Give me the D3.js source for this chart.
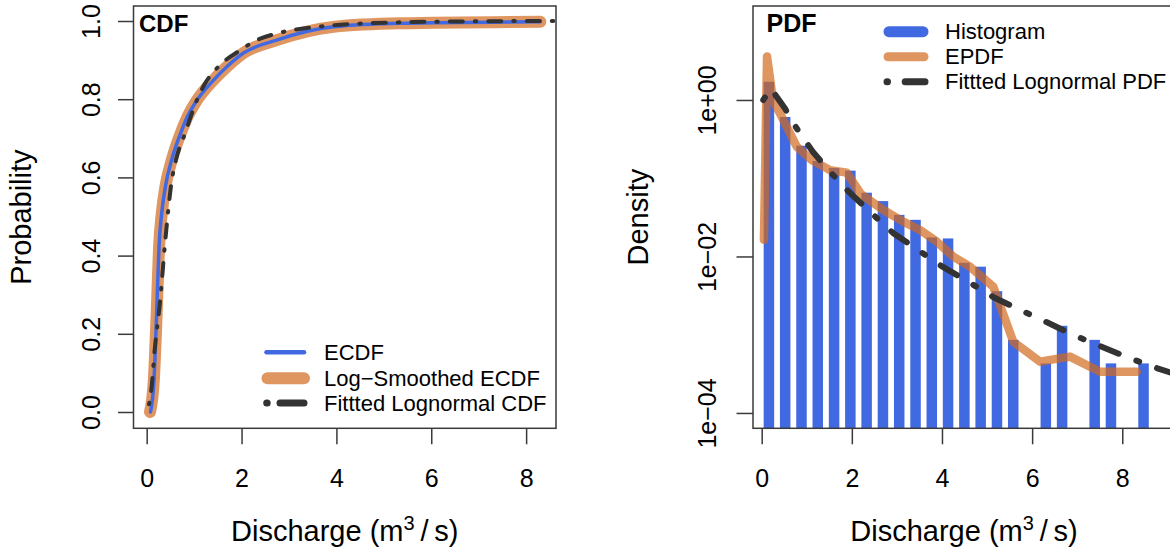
<!DOCTYPE html>
<html><head><meta charset="utf-8">
<script src="https://cdn.jsdelivr.net/npm/d3@7"></script>
<style>
body{margin:0;background:#fff}
svg{display:block;background:#fff}
text{font-family:"Liberation Sans",Arial,Helvetica,sans-serif;fill:#000}
</style>
</head><body>
<svg id="c" width="1170" height="554"></svg>
<script>
// ---------- DATA ----------
// Left panel (CDF)
const xTicks = [0, 2, 4, 6, 8];
const probTicks = [0, 0.2, 0.4, 0.6, 0.8, 1.0];
const ecdfX = [0.08, 0.154, 0.21, 0.26, 0.316, 0.40, 0.527, 0.738, 0.857, 1.02, 1.405, 1.69, 2.04, 2.74, 3.94, 5.34, 8.3];
const ecdfP = [0.0, 0.082, 0.252, 0.423, 0.508, 0.58, 0.645, 0.72, 0.755, 0.79, 0.848, 0.883, 0.918, 0.951, 0.985, 0.994, 0.998];
const smoothX = [0.07, 0.15, 0.21, 0.26, 0.32, 0.40, 0.53, 0.74, 0.86, 1.02, 1.40, 1.69, 2.04, 2.74, 3.94, 5.34, 8.3];
const smoothP = [0.0, 0.08, 0.25, 0.42, 0.51, 0.58, 0.645, 0.72, 0.755, 0.79, 0.848, 0.883, 0.918, 0.951, 0.985, 0.994, 0.998];
const lnCdfX = [0.05, 0.10, 0.17, 0.28, 0.386, 0.527, 0.618, 0.81, 1.05, 1.23, 1.51, 1.97, 2.32, 2.74, 3.59, 4.64, 6.75, 8.63];
const lnCdfP = [0.02, 0.06, 0.16, 0.28, 0.43, 0.59, 0.645, 0.713, 0.795, 0.84, 0.883, 0.925, 0.951, 0.968, 0.985, 0.994, 0.999, 1.0];
const cdfLegend = ["ECDF", "Log\u2212Smoothed ECDF", "Fittted Lognormal CDF"];

// Right panel (PDF)
const densTicks = [1, 1e-2, 1e-4];
const densTickLabels = ["1e+00", "1e\u221202", "1e\u221204"];
const binMid = [0.16, 0.521, 0.883, 1.244, 1.606, 1.967, 2.328, 2.69, 3.051, 3.413, 3.774, 4.135, 4.497, 4.858, 5.22, 5.581, 5.942, 6.304, 6.665, 7.027, 7.388, 7.749, 8.111, 8.472];
const binDensity = [1.71, 0.606, 0.26, 0.166, 0.135, 0.125, 0.0653, 0.051, 0.034, 0.0294, 0.0175, 0.017, 0.0083, 0.0074, 0.0036, 8.6e-4, 0, 4.3e-4, 1.3e-3, 0, 8.6e-4, 4.3e-4, 0, 4.3e-4];
const epdfX = [0.05, 0.118, 0.25, 0.444, 0.777, 1.109, 1.515, 1.886, 2.2, 2.698, 3.141, 3.512, 3.882, 4.251, 4.621, 5.138, 5.582, 6.174, 6.84, 7.505, 8.32];
const epdfY = [0.0163, 3.6, 1.0, 0.61, 0.253, 0.171, 0.127, 0.118, 0.063, 0.0393, 0.0279, 0.0218, 0.0155, 0.00993, 0.0074, 0.00411, 8.15e-4, 4.53e-4, 5.25e-4, 3.37e-4, 3.37e-4];
const lnPdfX = [0.035, 0.2, 0.517, 0.70, 1.138, 1.515, 1.915, 2.44, 2.913, 3.468, 4.011, 4.577, 5.154, 5.768, 6.34, 6.913, 7.543, 8.17, 8.78, 9.17];
const lnPdfY = [1.0, 1.41, 0.78, 0.504, 0.216, 0.121, 0.0687, 0.0356, 0.02, 0.0121, 0.0074, 0.00478, 0.00299, 0.00203, 0.00143, 9.93e-4, 7.03e-4, 5.0e-4, 3.72e-4, 3.16e-4];
const pdfLegend = ["Histogram", "EPDF", "Fittted Lognormal PDF"];

// ---------- STYLE ----------
const BLUE = "#4169E1";
const ORANGE = "rgb(210,105,30)";
const DARK = "#333333";
const FRAME = "#3a3a3a";

const svg = d3.select("#c");

// ---------- LEFT PANEL ----------
const L = {left: 133.5, right: 556, top: 6, bottom: 428.3};
const xL = d3.scaleLinear().domain([-0.278, 8.63]).range([L.left, L.right]);
const yL = d3.scaleLinear().domain([0, 1]).range([412, 21]);

svg.append("clipPath").attr("id", "clipL").append("rect")
  .attr("x", L.left).attr("y", L.top).attr("width", L.right - L.left).attr("height", L.bottom - L.top);

const gL = svg.append("g").attr("clip-path", "url(#clipL)");
const lineL = (xs, ys) => d3.line().curve(d3.curveMonotoneX)
  .x((d, i) => xL(xs[i])).y((d, i) => yL(ys[i]))(xs);

gL.append("path").attr("d", lineL(smoothX, smoothP))
  .attr("fill", "none").attr("stroke", ORANGE).attr("stroke-opacity", 0.7)
  .attr("stroke-width", 12).attr("stroke-linecap", "round").attr("stroke-linejoin", "round");
gL.append("path").attr("d", lineL(ecdfX, ecdfP))
  .attr("fill", "none").attr("stroke", BLUE)
  .attr("stroke-width", 3.5).attr("stroke-linecap", "round").attr("stroke-linejoin", "round");
gL.append("path").attr("d", lineL(lnCdfX, lnCdfP))
  .attr("fill", "none").attr("stroke", DARK)
  .attr("stroke-width", 4).attr("stroke-dasharray", "1.5,12,13,12")
  .attr("stroke-linecap", "round").attr("stroke-linejoin", "round");

svg.append("rect").attr("x", L.left).attr("y", L.top)
  .attr("width", L.right - L.left).attr("height", L.bottom - L.top)
  .attr("fill", "none").attr("stroke", FRAME).attr("stroke-width", 1.5);

function styleAxis(g) {
  g.select(".domain").remove();
  g.selectAll(".tick line").attr("stroke", FRAME).attr("stroke-width", 1.5);
}

const axXL = svg.append("g").attr("transform", `translate(0,${L.bottom})`)
  .call(d3.axisBottom(xL).tickValues(xTicks).tickSize(16).tickFormat(d3.format("d")));
styleAxis(axXL);
axXL.selectAll(".tick text").attr("y", 487 - L.bottom).attr("dy", 0)
  .style("font-size", "25px").attr("fill", "#000");

const axYL = svg.append("g").attr("transform", `translate(${L.left},0)`)
  .call(d3.axisLeft(yL).tickValues(probTicks).tickSize(15.5).tickFormat(d3.format(".1f")));
styleAxis(axYL);
axYL.selectAll(".tick text").attr("x", 0).attr("y", 100 - L.left).attr("dy", 0)
  .attr("transform", "rotate(-90)").attr("text-anchor", "middle")
  .style("font-size", "25px").attr("fill", "#000");

// titles
function xTitle(cx) {
  const t = svg.append("text").attr("x", cx).attr("y", 541).attr("text-anchor", "middle")
    .style("font-size", "29px");
  t.append("tspan").text("Discharge (m");
  t.append("tspan").text("3").attr("dy", -11).style("font-size", "20px");
  t.append("tspan").text("\u2009/\u2009s)").attr("dy", 11);
}
xTitle((L.left + L.right) / 2);

svg.append("text").attr("transform", `translate(31,${(L.top + L.bottom) / 2}) rotate(-90)`)
  .attr("text-anchor", "middle").style("font-size", "29px").text("Probability");

svg.append("text").attr("x", 139).attr("y", 31.5).style("font-size", "24px")
  .style("font-weight", "bold").text("CDF");

// left legend
const legL = svg.append("g");
const legLY = [352.3, 378.3, 403];
legL.append("line").attr("x1", 266.5).attr("x2", 304).attr("y1", legLY[0]).attr("y2", legLY[0])
  .attr("stroke", BLUE).attr("stroke-width", 4.5).attr("stroke-linecap", "round");
legL.append("line").attr("x1", 267.5).attr("x2", 304).attr("y1", legLY[1]).attr("y2", legLY[1])
  .attr("stroke", ORANGE).attr("stroke-opacity", 0.7).attr("stroke-width", 12).attr("stroke-linecap", "round");
legL.append("line").attr("x1", 266.7).attr("x2", 304).attr("y1", legLY[2]).attr("y2", legLY[2])
  .attr("stroke", DARK).attr("stroke-width", 7).attr("stroke-dasharray", "0.5,12.8,24,20")
  .attr("stroke-linecap", "round");
legL.selectAll("text").data(cdfLegend).join("text")
  .attr("x", 324).attr("y", (d, i) => legLY[i] + 7.8)
  .style("font-size", "22px").text(d => d);

// ---------- RIGHT PANEL ----------
const R = {left: 753, right: 1175, top: 6, bottom: 428.3};
const xR = d3.scaleLinear().domain([-0.193, 9.17]).range([R.left, R.right]);
const yR = d3.scaleLog().domain([Math.pow(10, -4.196), Math.pow(10, 1.201)]).range([R.bottom, R.top]);

svg.append("clipPath").attr("id", "clipR").append("rect")
  .attr("x", R.left).attr("y", R.top).attr("width", R.right - R.left).attr("height", R.bottom - R.top);
const gR = svg.append("g").attr("clip-path", "url(#clipR)");

const bars = binMid.map((m, i) => ({m, v: binDensity[i]})).filter(d => d.v > 0);
const barW = 10.5;
gR.selectAll("rect.bar").data(bars).join("rect").attr("class", "bar")
  .attr("x", d => xR(d.m) - barW / 2).attr("width", barW)
  .attr("y", d => yR(d.v)).attr("height", d => R.bottom - yR(d.v))
  .attr("fill", BLUE);

const lineR = (xs, ys) => d3.line().x((d, i) => xR(xs[i])).y((d, i) => yR(ys[i]))(xs);
gR.append("path").attr("d", lineR(epdfX, epdfY))
  .attr("fill", "none").attr("stroke", ORANGE).attr("stroke-opacity", 0.7)
  .attr("stroke-width", 8.5).attr("stroke-linecap", "round").attr("stroke-linejoin", "round");
gR.append("path").attr("d", lineR(lnPdfX, lnPdfY))
  .attr("fill", "none").attr("stroke", DARK)
  .attr("stroke-width", 6).attr("stroke-dasharray", "3,19,19,19")
  .attr("stroke-linecap", "round").attr("stroke-linejoin", "round");

svg.append("rect").attr("x", R.left).attr("y", R.top)
  .attr("width", R.right - R.left).attr("height", R.bottom - R.top)
  .attr("fill", "none").attr("stroke", FRAME).attr("stroke-width", 1.5);

const axXR = svg.append("g").attr("transform", `translate(0,${R.bottom})`)
  .call(d3.axisBottom(xR).tickValues(xTicks).tickSize(16).tickFormat(d3.format("d")));
styleAxis(axXR);
axXR.selectAll(".tick text").attr("y", 487 - R.bottom).attr("dy", 0)
  .style("font-size", "25px").attr("fill", "#000");

const axYR = svg.append("g").attr("transform", `translate(${R.left},0)`)
  .call(d3.axisLeft(yR).tickValues(densTicks).tickSize(16.5)
    .tickFormat((d, i) => densTickLabels[i]));
styleAxis(axYR);
axYR.selectAll(".tick text").attr("x", 0).attr("y", 716 - R.left).attr("dy", 0)
  .attr("transform", "rotate(-90)").attr("text-anchor", "middle")
  .style("font-size", "25px").attr("fill", "#000");

xTitle(964);
svg.append("text").attr("transform", `translate(648,${(R.top + R.bottom) / 2}) rotate(-90)`)
  .attr("text-anchor", "middle").style("font-size", "29px").text("Density");

svg.append("text").attr("x", 766.5).attr("y", 31.5).style("font-size", "25px")
  .style("font-weight", "bold").text("PDF");

// right legend
const legR = svg.append("g");
const legRY = [31.7, 56.7, 81.7];
legR.append("line").attr("x1", 889).attr("x2", 923).attr("y1", legRY[0]).attr("y2", legRY[0])
  .attr("stroke", BLUE).attr("stroke-width", 11).attr("stroke-linecap", "round");
legR.append("line").attr("x1", 888).attr("x2", 924).attr("y1", legRY[1]).attr("y2", legRY[1])
  .attr("stroke", ORANGE).attr("stroke-opacity", 0.7).attr("stroke-width", 9).attr("stroke-linecap", "round");
legR.append("line").attr("x1", 887).attr("x2", 925).attr("y1", legRY[2]).attr("y2", legRY[2])
  .attr("stroke", DARK).attr("stroke-width", 7).attr("stroke-dasharray", "0.5,17.7,20,20")
  .attr("stroke-linecap", "round");
legR.selectAll("text").data(pdfLegend).join("text")
  .attr("x", 945).attr("y", (d, i) => legRY[i] + 7.5)
  .style("font-size", "22px").text(d => d);
</script>
</body></html>
